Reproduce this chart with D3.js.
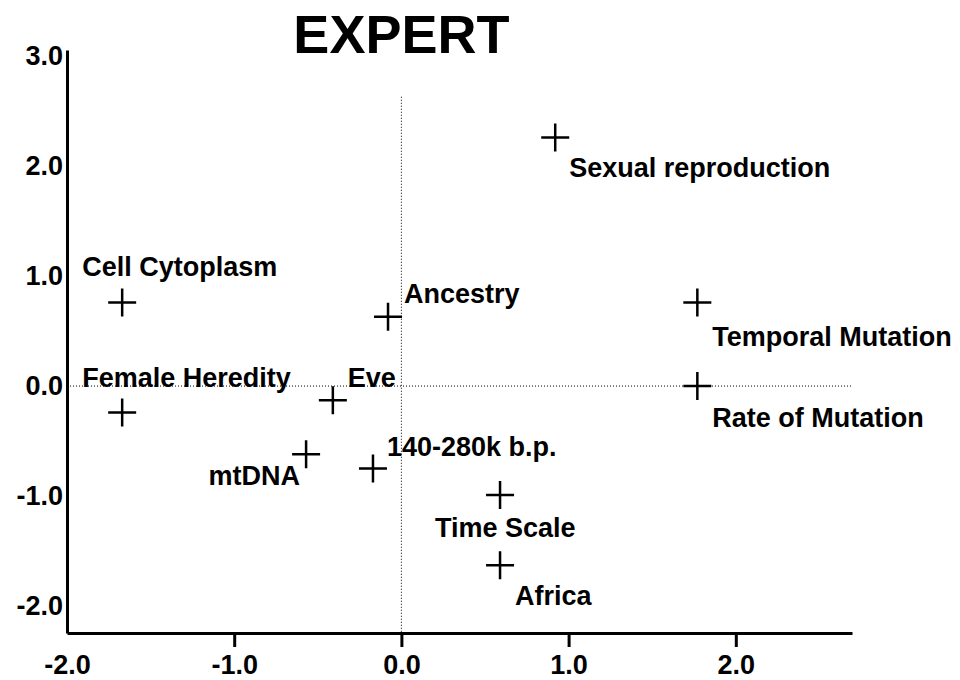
<!DOCTYPE html>
<html>
<head>
<meta charset="utf-8">
<script src="https://cdn.jsdelivr.net/npm/d3@7"></script>
<style>
  body { margin: 0; background: #fff; }
  svg text { font-family: "Liberation Sans", Arial, sans-serif; font-weight: bold; fill: #000; }
  .axis path, .axis line { stroke: #000; stroke-width: 3; }
  .axis text { font-size: 27px; }
  .label { font-size: 27px; }
</style>
</head>
<body>
<svg class="chart"></svg>
<script>
// terms and their coordinates on the two dimensions
var terms = ["Sexual reproduction", "Cell Cytoplasm", "Ancestry", "Temporal Mutation",
             "Rate of Mutation", "Female Heredity", "Eve", "mtDNA",
             "140-280k b.p.", "Time Scale", "Africa"];
var dim1 = [0.92, -1.67, -0.08, 1.77, 1.77, -1.67, -0.41, -0.57, -0.17, 0.59, 0.59];
var dim2 = [2.26, 0.76, 0.63, 0.76, 0.0, -0.24, -0.13, -0.62, -0.75, -0.99, -1.63];

var xTicks = [-2, -1, 0, 1, 2];
var yTicks = [3, 2, 1, 0, -1, -2];

// where each label sits relative to its cross
var labelPos = [
  {dx: 14, dy: 40, anchor: "start"},
  {dx: -40, dy: -26, anchor: "start"},
  {dx: 16, dy: -14, anchor: "start"},
  {dx: 15, dy: 44, anchor: "start"},
  {dx: 15, dy: 41, anchor: "start"},
  {dx: -40, dy: -25, anchor: "start"},
  {dx: 15, dy: -13, anchor: "start"},
  {dx: -6, dy: 31, anchor: "end"},
  {dx: 14, dy: -13, anchor: "start"},
  {dx: -65, dy: 42, anchor: "start"},
  {dx: 15, dy: 40, anchor: "start"}
];

var width = 960, height = 680;

var x = d3.scaleLinear()
  .domain([-2, 2.695])
  .range([67, 852]);

var y = d3.scaleLinear()
  .domain([-2.245, 3.055])
  .range([633, 50]);

var svg = d3.select(".chart")
  .attr("width", width)
  .attr("height", height);

svg.append("text")
  .attr("x", x(0))
  .attr("y", 53)
  .attr("text-anchor", "middle")
  .style("font-size", "54px")
  .text("EXPERT");

// dotted reference lines through the origin
svg.append("line")
  .attr("x1", x(0)).attr("x2", x(0))
  .attr("y1", y(2.63)).attr("y2", y(-2.245))
  .attr("stroke", "#000")
  .attr("stroke-width", 1)
  .attr("stroke-dasharray", "1,2");

svg.append("line")
  .attr("x1", x(-2)).attr("x2", x(2.695))
  .attr("y1", y(0)).attr("y2", y(0))
  .attr("stroke", "#000")
  .attr("stroke-width", 1)
  .attr("stroke-dasharray", "1,2");

var fmt = function(d) { return d.toFixed(1); };

svg.append("g")
  .attr("class", "x axis")
  .attr("transform", "translate(0," + y(-2.245) + ")")
  .call(d3.axisBottom(x).tickValues(xTicks).tickFormat(fmt).tickSize(14).tickSizeOuter(0).tickPadding(8))
  .call(function(g) { g.selectAll(".tick line").filter(function(d) { return d === -2; }).remove(); });

svg.append("g")
  .attr("class", "y axis")
  .attr("transform", "translate(" + x(-2) + ",0)")
  .call(d3.axisLeft(y).tickValues(yTicks).tickFormat(fmt).tickSize(0).tickSizeOuter(0).tickPadding(4));

svg.selectAll(".axis text").attr("fill", "#000");

var pts = terms.map(function(t, i) {
  return {name: t, x: dim1[i], y: dim2[i], pos: labelPos[i]};
});

var mark = svg.selectAll(".mark")
    .data(pts)
  .enter().append("g")
    .attr("class", "mark")
    .attr("transform", function(d) { return "translate(" + x(d.x) + "," + y(d.y) + ")"; });

mark.append("path")
  .attr("d", "M-14,0H14M0,-14V14")
  .attr("stroke", "#000")
  .attr("stroke-width", 2.5)
  .attr("fill", "none");

mark.append("text")
  .attr("class", "label")
  .attr("x", function(d) { return d.pos.dx; })
  .attr("y", function(d) { return d.pos.dy; })
  .attr("text-anchor", function(d) { return d.pos.anchor; })
  .text(function(d) { return d.name; });
</script>
</body>
</html>
